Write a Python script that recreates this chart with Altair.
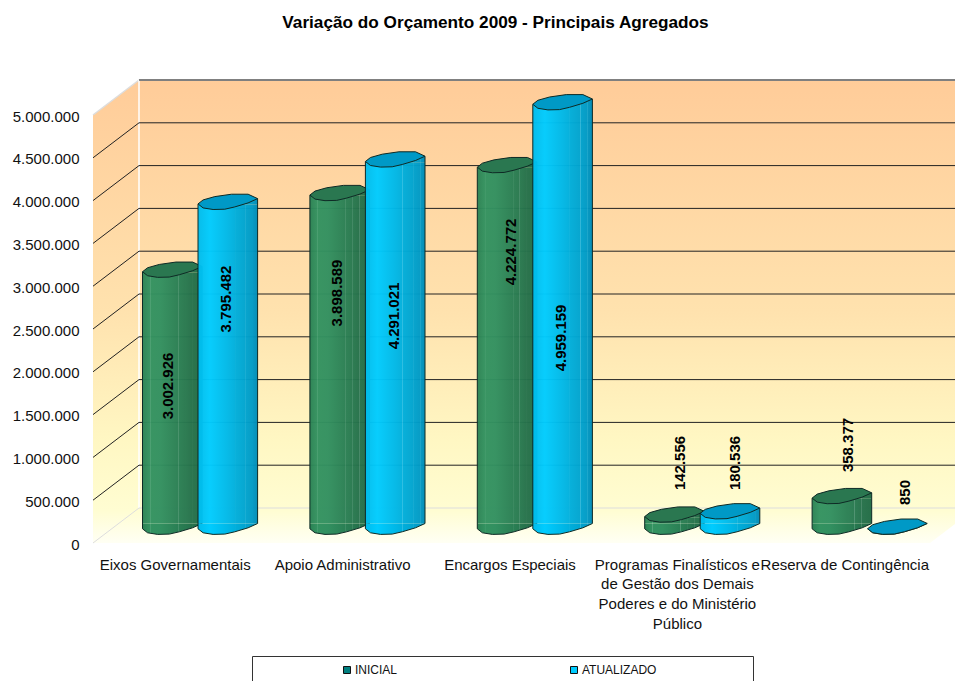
import altair as alt
import pandas as pd

categories = ["Eixos Governamentais", "Apoio Administrativo", "Encargos Especiais",
              "Programas Finalísticos e|de Gestão dos Demais|Poderes e do Ministério|Público",
              "Reserva de Contingência"]
inicial = [3002926, 3898589, 4224772, 142556, 358377]
atualizado = [3795482, 4291021, 4959159, 180536, 850]
# where each printed value sits, read on the value axis, and its sideways nudge
inicial_label_at = [1834000, 2920000, 3400000, 935000, 1145000]
atualizado_label_at = [2850000, 2652000, 2395000, 935000, 590000]
inicial_label_dx = [-8.7, -7, -0.5, 1, 1.7]
atualizado_label_dx = [49.3, 50, 49.5, 56, 58.7]
ticks = [i * 500000 for i in range(11)]

FONT = "Liberation Sans"
W, H = 837, 463
DEPTH_X, DEPTH_Y = 46, 35
BASE = -16.5
R = 29.8
CX_I, CX_A = -4.4, 51.1

def table(vals, at, dx, name):
    return pd.DataFrame({
        "cat": categories, "value": vals, "zero": [0] * 5, "at": at, "dx": dx,
        "serie": [name] * 5,
        "label": [f"{v:,}".replace(",", ".") for v in vals],
    })

df_i = table(inicial, inicial_label_at, inicial_label_dx, "INICIAL")
df_a = table(atualizado, atualizado_label_at, atualizado_label_dx, "ATUALIZADO")
df_t = pd.DataFrame({"v": ticks})

yscale = alt.Scale(domain=[0, H / 85.6 * 1e6], range=[H, 0], nice=False, zero=False)
xscale = alt.Scale(domain=categories, paddingInner=0, paddingOuter=0)
X = alt.X("cat:N", scale=xscale, sort=None, axis=None)
Y = alt.Y("value:Q", scale=yscale, axis=None)

def path(pts, close=True):
    return "M" + " L".join(f"{x:.2f},{y:.2f}" for x, y in pts) + ("Z" if close else "")

UPPER = [(-R, 2.3), (-24.7, -1.7), (-13, -5), (3.7, -7.4), (20.3, -7.4), (R, -3)]
LOWER = [(-R, 2.3), (-24.7, 6.3), (-14.7, 7.9), (-3, 7.6), (7, 5.3), (20.3, 1.3), (R, -3)]
TOP = path(UPPER + LOWER[::-1][1:-1])
TOP_CAP = path([(-R, 2.3), (R, -3), (R, 3), (-R, 3)])
BOTTOM_FILL = path([(-R, -3)] + LOWER)
BOTTOM_LINE = path(LOWER, close=False)

def grad(stops, vertical=False):
    return {"gradient": "linear", "x1": 0, "y1": 0, "x2": 0 if vertical else 1, "y2": 1 if vertical else 0,
            "stops": [{"offset": o, "color": c} for o, c in stops]}

WALL = grad([(0, "#FFCC99"), (0.5, "#FFE2AE"), (0.78, "#FFF7C3"), (0.93, "#FFFDD2"), (1, "#FFFFF4")], vertical=True)
GREEN = grad([(0, "#2A8254"), (0.125, "#339260"), (0.13, "#56A67C"), (0.14, "#339260"), (0.3, "#329060"),
              (0.595, "#2A7F54"), (0.6, "#569B78"), (0.61, "#2A7F54"), (0.705, "#287950"), (0.71, "#519474"),
              (0.72, "#287950"), (0.825, "#25714B"), (0.83, "#4B8B6C"), (0.84, "#25714B"), (1, "#216B45")])
BLUE = grad([(0, "#00BCEC"), (0.2, "#00CCFF"), (0.5, "#00B8E8"), (0.615, "#00B0DE"), (0.62, "#36C2E6"),
             (0.63, "#00AEDB"), (0.795, "#00A4D0"), (0.8, "#2EB6DA"), (0.81, "#00A2CE"), (0.915, "#009AC6"),
             (0.92, "#26ACD0"), (0.93, "#0096C2"), (1, "#008BB6")])
EDGE = "#0E2A25"
BODY_OPACITY = 0.97

def shape_layer(df, cx, shape, dy=0, **kw):
    return alt.Chart(df).mark_point(shape=shape, size=4, xOffset=cx, yOffset=dy, opacity=1, **kw).encode(x=X, y=Y)

def cylinder(df, cx, body, top):
    big = df[df["value"] > 1000]
    base_pts = df.assign(value=0)
    big_base = big.assign(value=0)
    return [
        alt.Chart(big).mark_bar(width=2 * R, xOffset=cx, yOffset=BASE + 3, y2Offset=BASE - 3, fill=body,
                                fillOpacity=BODY_OPACITY, strokeWidth=0).encode(x=X, y=Y, y2=alt.Y2("zero:Q")),
        shape_layer(big, cx, TOP_CAP, BASE, filled=True, fill=body, fillOpacity=BODY_OPACITY, strokeWidth=0),
        shape_layer(big_base, cx, BOTTOM_FILL, BASE, filled=True, fill=body, strokeWidth=0),
        shape_layer(base_pts, cx, BOTTOM_LINE, BASE, filled=False, fill="transparent", stroke=EDGE, strokeWidth=1),
        alt.Chart(big).mark_rule(xOffset=cx - R, yOffset=BASE + 2.3, y2Offset=BASE + 2.3, stroke=EDGE, strokeWidth=1)
            .encode(x=X, y=Y, y2=alt.Y2("zero:Q")),
        alt.Chart(big).mark_rule(xOffset=cx + R, yOffset=BASE - 3, y2Offset=BASE - 3, stroke=EDGE, strokeWidth=1)
            .encode(x=X, y=Y, y2=alt.Y2("zero:Q")),
        shape_layer(df, cx, TOP, BASE, filled=True, fill=top, stroke=EDGE, strokeWidth=1),
    ]

def value_labels(df):
    out = []
    for _, row in df.iterrows():
        out.append(alt.Chart(pd.DataFrame([row])).mark_text(
            angle=270, font=FONT, fontSize=15, fontWeight="bold", color="#000", align="center", baseline="middle",
            xOffset=row["dx"]).encode(x=X, y=alt.Y("at:Q", scale=yscale, axis=None), text="label:N"))
    return out

tick_df = df_t[df_t["v"] > 0]
zero_df = df_t[df_t["v"] == 0]
YT = alt.Y("v:Q", scale=yscale, axis=None)

walls = alt.Chart(df_t.head(1)).mark_rect(fill=WALL, strokeWidth=0).encode(
    x=alt.value(0), x2=alt.value(W + DEPTH_X), y=alt.value(0), y2=alt.value(H))
axis_layer = alt.Chart(df_t).transform_calculate(cat="'%s'" % categories[0]).mark_rule(opacity=0).encode(
    x=alt.X("cat:N", scale=xscale, sort=None, axis=alt.Axis(
        title=None, domain=False, ticks=False, labelAngle=0, labelFont=FONT, labelFontSize=15, labelColor="#111",
        labelPadding=14, labelLineHeight=19.8, labelLimit=400, labelOverlap=False, labelBaseline="top",
        labelExpr="split(datum.label, '|')", labelOffset=-1.5)),
    y=alt.Y("v:Q", scale=yscale, axis=alt.Axis(
        title=None, values=ticks, grid=False, domain=False, ticks=False, labelFont=FONT, labelFontSize=15,
        labelColor="#111", labelPadding=14, labelOverlap=False, labelBaseline="middle", labelOffset=1,
        labelExpr="replace(format(datum.value, ','), regexp(',', 'g'), '.')")))

back_lines = alt.Chart(tick_df).mark_rule(stroke="#222", strokeWidth=1, yOffset=-DEPTH_Y).encode(
    x=alt.value(DEPTH_X), x2=alt.value(W + DEPTH_X), y=YT)
side_lines = alt.Chart(tick_df[tick_df["v"] < 5000000]).mark_rule(stroke="#222", strokeWidth=1, y2Offset=-DEPTH_Y).encode(
    x=alt.value(0), x2=alt.value(DEPTH_X), y=YT, y2=alt.Y2("v:Q"))
floor_back = alt.Chart(zero_df).mark_rule(stroke="#DDDDDD", strokeWidth=1, yOffset=-DEPTH_Y).encode(
    x=alt.value(DEPTH_X), x2=alt.value(W + DEPTH_X), y=YT)
floor_side = alt.Chart(zero_df).mark_rule(stroke="#DDDDDD", strokeWidth=1, y2Offset=-DEPTH_Y).encode(
    x=alt.value(0), x2=alt.value(DEPTH_X), y=YT, y2=alt.Y2("v:Q"))
top_edge = alt.Chart(df_t.head(1)).mark_rule(stroke="#DDDDDD", strokeWidth=2).encode(
    x=alt.value(DEPTH_X), x2=alt.value(W + DEPTH_X), y=alt.value(0))
white_edge = alt.Chart(df_t.head(1)).mark_rule(stroke="#FFFFFF", strokeWidth=1.5).encode(
    x=alt.value(DEPTH_X), y=alt.value(0), y2=alt.value(H - DEPTH_Y))
corner_tl = alt.Chart(df_t.head(1)).mark_point(
    shape=path([(0, 0), (DEPTH_X, 0), (0, DEPTH_Y)]), size=4, filled=True, fill="#FFFFFF",
    strokeWidth=0, opacity=1).encode(x=alt.value(0), y=alt.value(0))
tl_edge = alt.Chart(df_t.head(1)).mark_rule(stroke="#DDDDDD", strokeWidth=1.5).encode(
    x=alt.value(0), x2=alt.value(DEPTH_X), y=alt.value(DEPTH_Y), y2=alt.value(0))
corner_br = alt.Chart(df_t.head(1)).mark_point(
    shape=path([(0, 0), (DEPTH_X, 0), (DEPTH_X, -DEPTH_Y)]), size=4, filled=True, fill="#FFFFFF",
    strokeWidth=0, opacity=1).encode(x=alt.value(W), y=alt.value(H))

legend_box = alt.Chart(df_t.head(1)).mark_rect(fill="transparent", stroke="#333333", strokeWidth=1).encode(
    x=alt.value(159.5), x2=alt.value(660.5), y=alt.value(576.5), y2=alt.value(640))
legend_src = alt.Chart(pd.concat([df_i, df_a])).mark_point(filled=True, size=0).encode(
    x=X, y=Y,
    color=alt.Color("serie:N", scale=alt.Scale(domain=["INICIAL", "ATUALIZADO"], range=["#007F7F", "#00CCFF"]),
                    legend=alt.Legend(orient="none", legendX=248, legendY=584, title=None, columns=2, columnPadding=170,
                                      symbolType="square", symbolSize=49, symbolStrokeColor="#111", symbolStrokeWidth=1,
                                      symbolOpacity=1, labelFont=FONT, labelFontSize=12, labelColor="#111",
                                      labelOffset=2, padding=0)))

layers = [walls, axis_layer, corner_tl, tl_edge, corner_br, top_edge, white_edge, back_lines, side_lines,
          floor_back, floor_side, legend_box, legend_src]
layers += cylinder(df_i, CX_I, GREEN, "#2A7750")
layers += cylinder(df_a, CX_A, BLUE, "#0099C6")
layers += value_labels(df_i) + value_labels(df_a)

chart = alt.layer(*layers).resolve_axis(x="independent", y="independent").properties(
    width=W, height=H,
    title=alt.TitleParams("Variação do Orçamento 2009 - Principais Agregados", font=FONT, fontSize=17.2,
                          fontWeight="bold", color="#000", anchor="middle", dx=-16, offset=48),
    autosize=alt.AutoSizeParams(type="none", contains="content"),
    padding={"left": 85, "top": 72, "right": 25, "bottom": 138},
).configure_view(stroke=None)

chart.save("out.html", embed_options={"renderer": "svg", "actions": False})
